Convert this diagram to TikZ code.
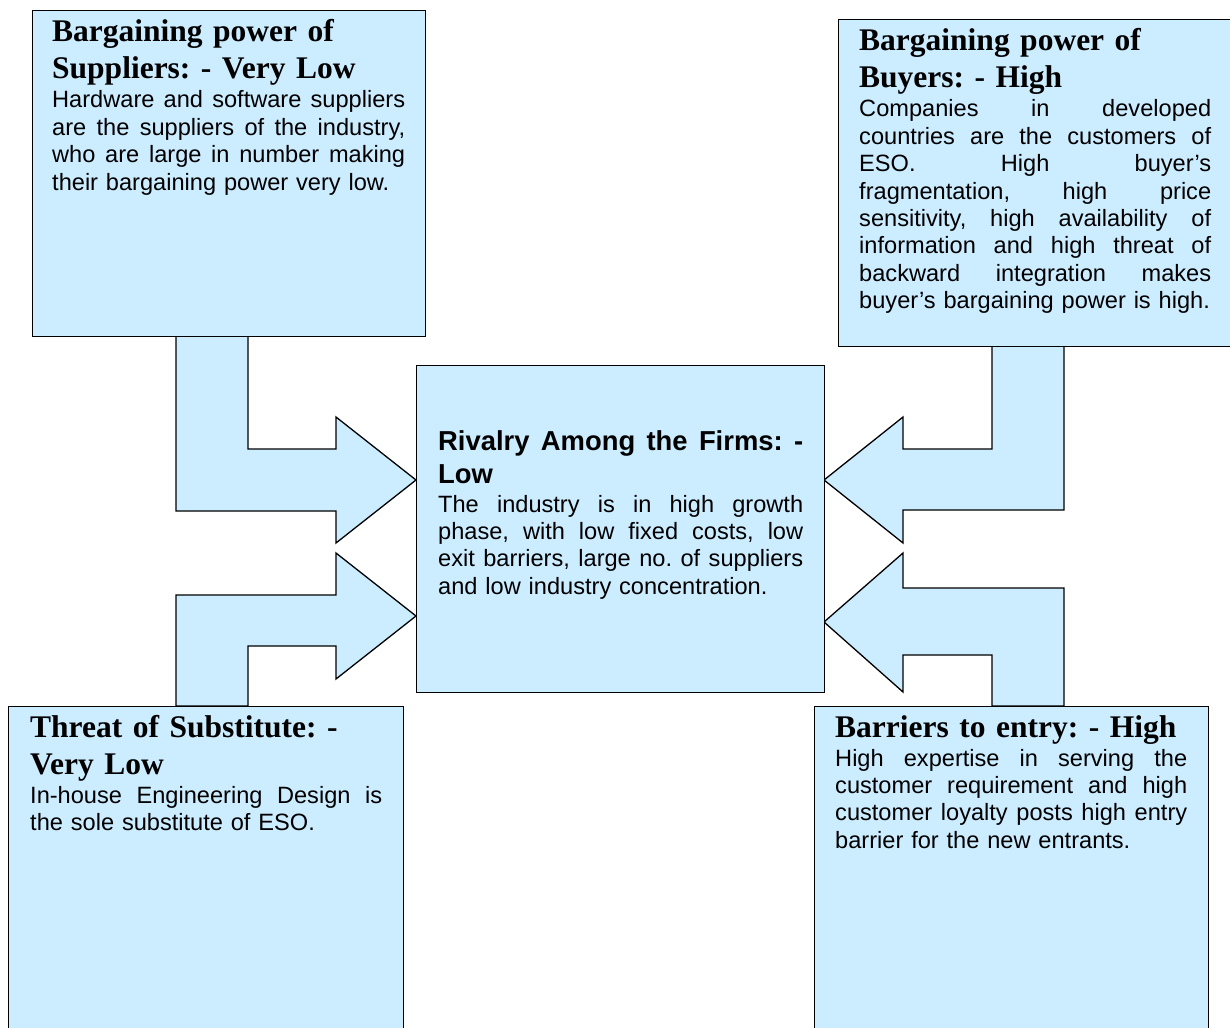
\documentclass[tikz,border=0pt]{standalone}
\usepackage{fontspec}
\setmainfont{Liberation Serif}
\setsansfont{Liberation Sans}
\frenchspacing
\definecolor{boxfill}{RGB}{204,236,255}
% one justified line of a given width
\newcommand\jl[2][352pt]{\hbox to #1{\spaceskip=.278em plus 1fil\relax #2}\par}
\newcommand\lastln[1]{\hbox{#1}\par}
\tikzset{
  panel/.style={draw=black, fill=boxfill, line width=1.3pt, rectangle, inner sep=0pt, anchor=north west},
  bigarrow/.style={draw=black, fill=boxfill, line width=1.3pt, line join=miter},
  ttl/.style={anchor=base west, inner sep=0pt, text width=400pt, align=left,
    font=\frenchspacing\fontsize{31.5}{37}\selectfont\bfseries},
  ctitle/.style={anchor=base west, inner sep=0pt, text width=365pt,
    font=\frenchspacing\fontsize{27.4}{33}\selectfont\sffamily\bfseries},
  bodytxt/.style={anchor=base west, inner sep=0pt, text width=#1,
    font=\frenchspacing\fontsize{23.6}{27.4}\selectfont\sffamily},
  bodytxt/.default=352pt,
}
\begin{document}
\begin{tikzpicture}[x=1pt,y=-1pt]
\useasboundingbox (0,0) rectangle (1230,1027);
\clip (0,0) rectangle (1230,1027);

% bent arrows
\draw[bigarrow] (176,336) -- (248,336) -- (248,449) -- (336,449) -- (336,417)
  -- (416,480) -- (336,543) -- (336,511) -- (176,511) -- cycle;
\draw[bigarrow] (176,706) -- (176,595) -- (336,595) -- (336,553)
  -- (416,616) -- (336,679) -- (336,646) -- (248,646) -- (248,706) -- cycle;
\draw[bigarrow] (992,346) -- (1064,346) -- (1064,510) -- (903,510) -- (903,543)
  -- (824,480) -- (903,417) -- (903,449) -- (992,449) -- cycle;
\draw[bigarrow] (1064,706) -- (1064,588) -- (903,588) -- (903,553)
  -- (824,622) -- (903,692) -- (903,655) -- (992,655) -- (992,706) -- cycle;

% panels
\node[panel, minimum width=393pt, minimum height=326pt] (sup) at (32,10) {};
\node[panel, minimum width=396pt, minimum height=327pt] (buy) at (838,19) {};
\node[panel, minimum width=408pt, minimum height=327pt] (riv) at (416,365) {};
\node[panel, minimum width=395pt, minimum height=330pt] (sub) at (8,706) {};
\node[panel, minimum width=394pt, minimum height=330pt] (ent) at (814,706) {};

% supplier text
\node[ttl] (supT) at (52,42) {Bargaining power of\\Suppliers: - Very Low};
\node[bodytxt=353pt] (supB) at (52,108) {%
  \jl[353pt]{Hardware and software suppliers}
  \jl[353pt]{are the suppliers of the industry,}
  \jl[353pt]{who are large in number making}
  \lastln{their bargaining power very low.}};

% buyer text
\node[ttl] (buyT) at (859,51) {Bargaining power of\\Buyers: - High};
\node[bodytxt] (buyB) at (859,117) {%
  \jl{Companies in developed}
  \jl{countries are the customers of}
  \jl{ESO. High buyer’s}
  \jl{fragmentation, high price}
  \jl{sensitivity, high availability of}
  \jl{information and high threat of}
  \jl{backward integration makes}
  \lastln{buyer’s bargaining power is high.}};

% rivalry text
\node[ctitle] (rivT) at (438,450) {%
  \jl[365pt]{Rivalry Among the Firms: -}
  \lastln{Low}};
\node[bodytxt=365pt] (rivB) at (438,512) {%
  \jl[365pt]{The industry is in high growth}
  \jl[365pt]{phase, with low fixed costs, low}
  \jl[365pt]{exit barriers, large no. of suppliers}
  \lastln{and low industry concentration.}};

% substitute text
\node[ttl] (subT) at (30,737) {Threat of Substitute: -\\Very Low};
\node[bodytxt] (subB) at (30,803) {%
  \jl{In-house Engineering Design is}
  \lastln{the sole substitute of ESO.}};

% entry text
\node[ttl] (entT) at (835,737) {Barriers to entry: - High};
\node[bodytxt] (entB) at (835,766) {%
  \jl{High expertise in serving the}
  \jl{customer requirement and high}
  \jl{customer loyalty posts high entry}
  \lastln{barrier for the new entrants.}};
\end{tikzpicture}
\end{document}
